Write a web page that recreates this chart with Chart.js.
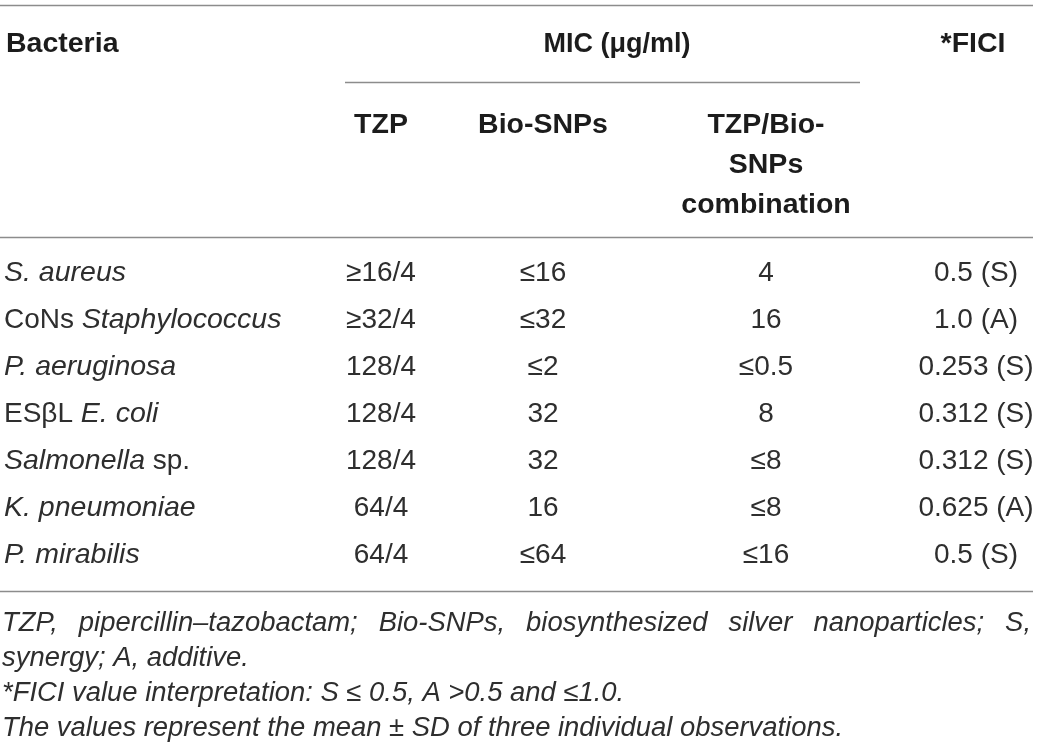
<!DOCTYPE html>
<html>
<head>
<meta charset="utf-8">
<script src="https://cdn.jsdelivr.net/npm/chart.js@4.4.1/dist/chart.umd.min.js"></script>
<style>
  html, body { margin: 0; padding: 0; background: #ffffff; }
  #wrap { width: 1039px; height: 753px; position: relative; }
</style>
</head>
<body>
<div id="wrap"><canvas id="c" width="1039" height="753"></canvas></div>
<script>
// ---------------- data ----------------
const bacteria = ['S. aureus', 'CoNs Staphylococcus', 'P. aeruginosa', 'ESβL E. coli', 'Salmonella sp.', 'K. pneumoniae', 'P. mirabilis'];
const bacteriaItalic = ['S. aureus', 'Staphylococcus', 'P. aeruginosa', 'E. coli', 'Salmonella', 'K. pneumoniae', 'P. mirabilis'];
const micTZP = ['≥16/4', '≥32/4', '128/4', '128/4', '128/4', '64/4', '64/4'];
const micBioSNPs = ['≤16', '≤32', '≤2', '32', '32', '16', '≤64'];
const micCombination = ['4', '16', '≤0.5', '8', '≤8', '≤8', '≤16'];
const ficiValues = ['0.5 (S)', '1.0 (A)', '0.253 (S)', '0.312 (S)', '0.312 (S)', '0.625 (A)', '0.5 (S)'];
const topHeaders = ['Bacteria', 'MIC (μg/ml)', '*FICI'];
const subHeaders = [['TZP'], ['Bio-SNPs'], ['TZP/Bio-', 'SNPs', 'combination']];
const footnotes = [
  'TZP, pipercillin–tazobactam; Bio-SNPs, biosynthesized silver nanoparticles; S,',
  'synergy; A, additive.',
  '*FICI value interpretation: S ≤ 0.5, A >0.5 and ≤1.0.',
  'The values represent the mean ± SD of three individual observations.'
];

// ---------------- layout (positions / styles only) ----------------
const W = 1039, H = 753;
const LAYOUT = {
  anchors: { names: 4 / W, tzp: 381 / W, bio: 543 / W, combo: 766 / W, fici: 976 / W, bacteriaHead: 6 / W, mic: 617 / W },
  padTop: 250, padBottom: 174,
  topHeadBase: 52,
  subHeadBase: [133, 173, 213],
  rules: [
    { y: 5.5, x0: 0, x1: 1033 },
    { y: 82.5, x0: 345, x1: 860 },
    { y: 237.5, x0: 0, x1: 1033 },
    { y: 591.5, x0: 0, x1: 1033 }
  ],
  footBase: [631, 666, 701, 736],
  footLeft: 2,
  footRight: 1031,
  footRefWidth: 841,
  family: '"Liberation Sans", Arial, Helvetica, sans-serif',
  bodySize: 28, italicSize: 28.5, headSize: 28.5, micSize: 27, footSize: 27,
  bodyColor: '#2e2e2e', headColor: '#1c1c1c', ruleColor: '#8c8c8c'
};

const columns = [
  { key: 'names', values: bacteria, align: 'left' },
  { key: 'tzp', values: micTZP, align: 'center' },
  { key: 'bio', values: micBioSNPs, align: 'center' },
  { key: 'combo', values: micCombination, align: 'center' },
  { key: 'fici', values: ficiValues, align: 'center' }
];

const datasets = columns.map(col => ({
  label: col.key,
  data: bacteria.map(b => ({ x: LAYOUT.anchors[col.key], y: b })),
  cellText: col.values,
  cellAlign: col.align,
  pointRadius: 0,
  pointHoverRadius: 0,
  showLine: false
}));

function font(style, weight, size) {
  return style + ' ' + weight + ' ' + size + 'px ' + LAYOUT.family;
}

const tablePlugin = {
  id: 'tableText',
  afterDatasetsDraw(chart) {
    const ctx = chart.ctx;
    const xs = chart.scales.x;
    ctx.save();

    // rules
    ctx.strokeStyle = LAYOUT.ruleColor;
    ctx.lineWidth = 1.4;
    LAYOUT.rules.forEach(r => {
      ctx.beginPath();
      ctx.moveTo(r.x0, r.y);
      ctx.lineTo(r.x1, r.y);
      ctx.stroke();
    });

    // header
    ctx.fillStyle = LAYOUT.headColor;
    ctx.textBaseline = 'alphabetic';
    ctx.font = font('normal', 'bold', LAYOUT.headSize);
    ctx.textAlign = 'left';
    ctx.fillText(topHeaders[0], xs.getPixelForValue(LAYOUT.anchors.bacteriaHead), LAYOUT.topHeadBase);
    ctx.textAlign = 'center';
    ctx.fillText(topHeaders[2], xs.getPixelForValue(LAYOUT.anchors.fici) - 3, LAYOUT.topHeadBase);
    ctx.font = font('normal', 'bold', LAYOUT.micSize);
    ctx.fillText(topHeaders[1], xs.getPixelForValue(LAYOUT.anchors.mic), LAYOUT.topHeadBase);
    ctx.font = font('normal', 'bold', LAYOUT.headSize);
    const subKeys = ['tzp', 'bio', 'combo'];
    subHeaders.forEach((lines, k) => {
      const px = xs.getPixelForValue(LAYOUT.anchors[subKeys[k]]);
      lines.forEach((t, j) => ctx.fillText(t, px, LAYOUT.subHeadBase[j]));
    });

    // body cells
    ctx.fillStyle = LAYOUT.bodyColor;
    ctx.textBaseline = 'middle';
    chart.data.datasets.forEach((ds, d) => {
      const meta = chart.getDatasetMeta(d);
      meta.data.forEach((el, i) => {
        const txt = ds.cellText[i];
        if (ds.label === 'names') {
          const it = bacteriaItalic[i];
          const p = txt.indexOf(it);
          const parts = [
            { t: txt.slice(0, p), s: 'normal', z: LAYOUT.bodySize },
            { t: it, s: 'italic', z: LAYOUT.italicSize },
            { t: txt.slice(p + it.length), s: 'normal', z: LAYOUT.bodySize }
          ];
          let x = el.x;
          ctx.textAlign = 'left';
          parts.forEach(part => {
            if (!part.t) return;
            ctx.font = font(part.s, 'normal', part.z);
            ctx.fillText(part.t, x, el.y);
            x += ctx.measureText(part.t).width;
          });
        } else {
          ctx.font = font('normal', 'normal', LAYOUT.bodySize);
          ctx.textAlign = ds.cellAlign;
          ctx.fillText(txt, el.x, el.y);
        }
      });
    });

    // footnotes
    ctx.fillStyle = LAYOUT.bodyColor;
    ctx.textBaseline = 'alphabetic';
    ctx.textAlign = 'left';
    ctx.font = font('italic', 'normal', LAYOUT.footSize);
    const refScale = LAYOUT.footRefWidth / ctx.measureText(footnotes[3]).width;
    footnotes.forEach((line, i) => {
      const y = LAYOUT.footBase[i];
      if (i === 0) {
        // justified line
        const words = line.split(' ');
        const widths = words.map(w => ctx.measureText(w).width * refScale);
        const total = widths.reduce((a, b) => a + b, 0);
        const gap = (LAYOUT.footRight - LAYOUT.footLeft - total) / (words.length - 1);
        let x = LAYOUT.footLeft;
        words.forEach((w, k) => {
          ctx.save();
          ctx.translate(x, y);
          ctx.scale(refScale, 1);
          ctx.fillText(w, 0, 0);
          ctx.restore();
          x += widths[k] + gap;
        });
      } else {
        ctx.save();
        ctx.translate(LAYOUT.footLeft, y);
        ctx.scale(refScale, 1);
        ctx.fillText(line, 0, 0);
        ctx.restore();
      }
    });

    ctx.restore();
  }
};

new Chart(document.getElementById('c'), {
  type: 'scatter',
  data: { labels: bacteria, datasets: datasets },
  options: {
    responsive: false,
    animation: false,
    devicePixelRatio: 1,
    layout: { padding: { top: LAYOUT.padTop, bottom: LAYOUT.padBottom, left: 0, right: 0 } },
    plugins: { legend: { display: false }, tooltip: { enabled: false } },
    events: [],
    scales: {
      x: { type: 'linear', min: 0, max: 1, display: false },
      y: { type: 'category', labels: bacteria, offset: true, display: false }
    }
  },
  plugins: [tablePlugin]
});
</script>
</body>
</html>
